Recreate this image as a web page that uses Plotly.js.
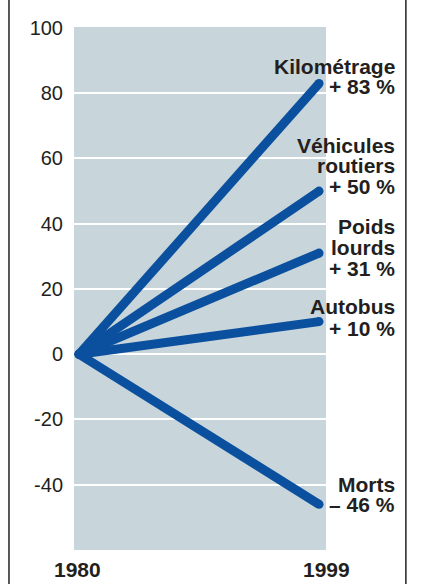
<!DOCTYPE html>
<html>
<head>
<meta charset="utf-8">
<script src="https://cdn.plot.ly/plotly-3.0.1.min.js"></script>
<style>html,body{margin:0;padding:0;background:#fff;}#chart{width:421px;height:584px;}</style>
</head>
<body>
<div id="chart"></div>
<script>
// ---- data ----
const years = [1980, 1999];
const categories = ["Kilométrage", "Véhicules\nroutiers", "Poids\nlourds", "Autobus", "Morts"];
const changes = [83, 50, 31, 10, -46];          // % change 1980 -> 1999
const yTickVals = [100, 80, 60, 40, 20, 0, -20, -40];

// ---- layout config (label placement, in y-axis units) ----
const labelRows = [
  [88.3, 82.0],
  [64.0, 57.7, 51.3],
  [39.2, 32.6, 26.3],
  [14.6, 7.9],
  [-40.0, -46.1]
];

const lineColor = "#0a509e";
const textColor = "#231f20";
const font = "Liberation Sans, Arial, sans-serif";

const traces = changes.map((v, i) => ({
  type: "scatter",
  mode: "lines+markers",
  x: years,
  y: [0, v],
  line: {color: lineColor, width: 9},
  marker: {color: lineColor, size: 9},
  hoverinfo: "skip",
  showlegend: false
}));

function pctText(v) {
  return (v >= 0 ? "+ " : "\u2013 ") + Math.abs(v) + " %";
}

const annotations = [];
categories.forEach((c, i) => {
  const lines = c.split("\n").concat([pctText(changes[i])]);
  lines.forEach((t, j) => {
    annotations.push({
      xref: "paper", yref: "y",
      x: 1.2817, y: labelRows[i][j],
      xanchor: "right", yanchor: "middle",
      text: "<b>" + t + "</b>",
      showarrow: false,
      font: {family: font, size: 21, color: textColor}
    });
  });
});
years.forEach((yr, i) => {
  annotations.push({
    xref: "x", yref: "paper",
    x: yr, y: -0.0382,
    xshift: i === 0 ? -2 : 7,
    xanchor: "center", yanchor: "middle",
    text: "<b>" + yr + "</b>",
    showarrow: false,
    font: {family: font, size: 21, color: textColor}
  });
});

const layout = {
  width: 421, height: 584,
  margin: {l: 74, r: 95, t: 27, b: 34, pad: 0},
  paper_bgcolor: "#ffffff",
  plot_bgcolor: "#c8d5da",
  showlegend: false,
  xaxis: {
    range: [1979.60, 1999.55],
    showgrid: false, zeroline: false, showline: false,
    showticklabels: false, ticks: "", fixedrange: true
  },
  yaxis: {
    range: [-60, 100.3],
    tickvals: yTickVals,
    ticktext: yTickVals.map(String),
    showgrid: true, gridcolor: "#ffffff", gridwidth: 2,
    zeroline: false, showline: false, ticks: "",
    ticklabelstandoff: 10,
    tickfont: {family: font, size: 20, color: textColor},
    fixedrange: true
  },
  shapes: [
    {type: "line", xref: "paper", yref: "paper", x0: -0.258, x1: -0.258, y0: -0.1, y1: 1.1,
     line: {color: "#222", width: 1.5}},
    {type: "line", xref: "paper", yref: "paper", x0: 1.317, x1: 1.317, y0: -0.1, y1: 1.1,
     line: {color: "#222", width: 1.5}}
  ],
  annotations: annotations
};

Plotly.newPlot("chart", traces, layout, {displayModeBar: false, staticPlot: true});
</script>
</body>
</html>
